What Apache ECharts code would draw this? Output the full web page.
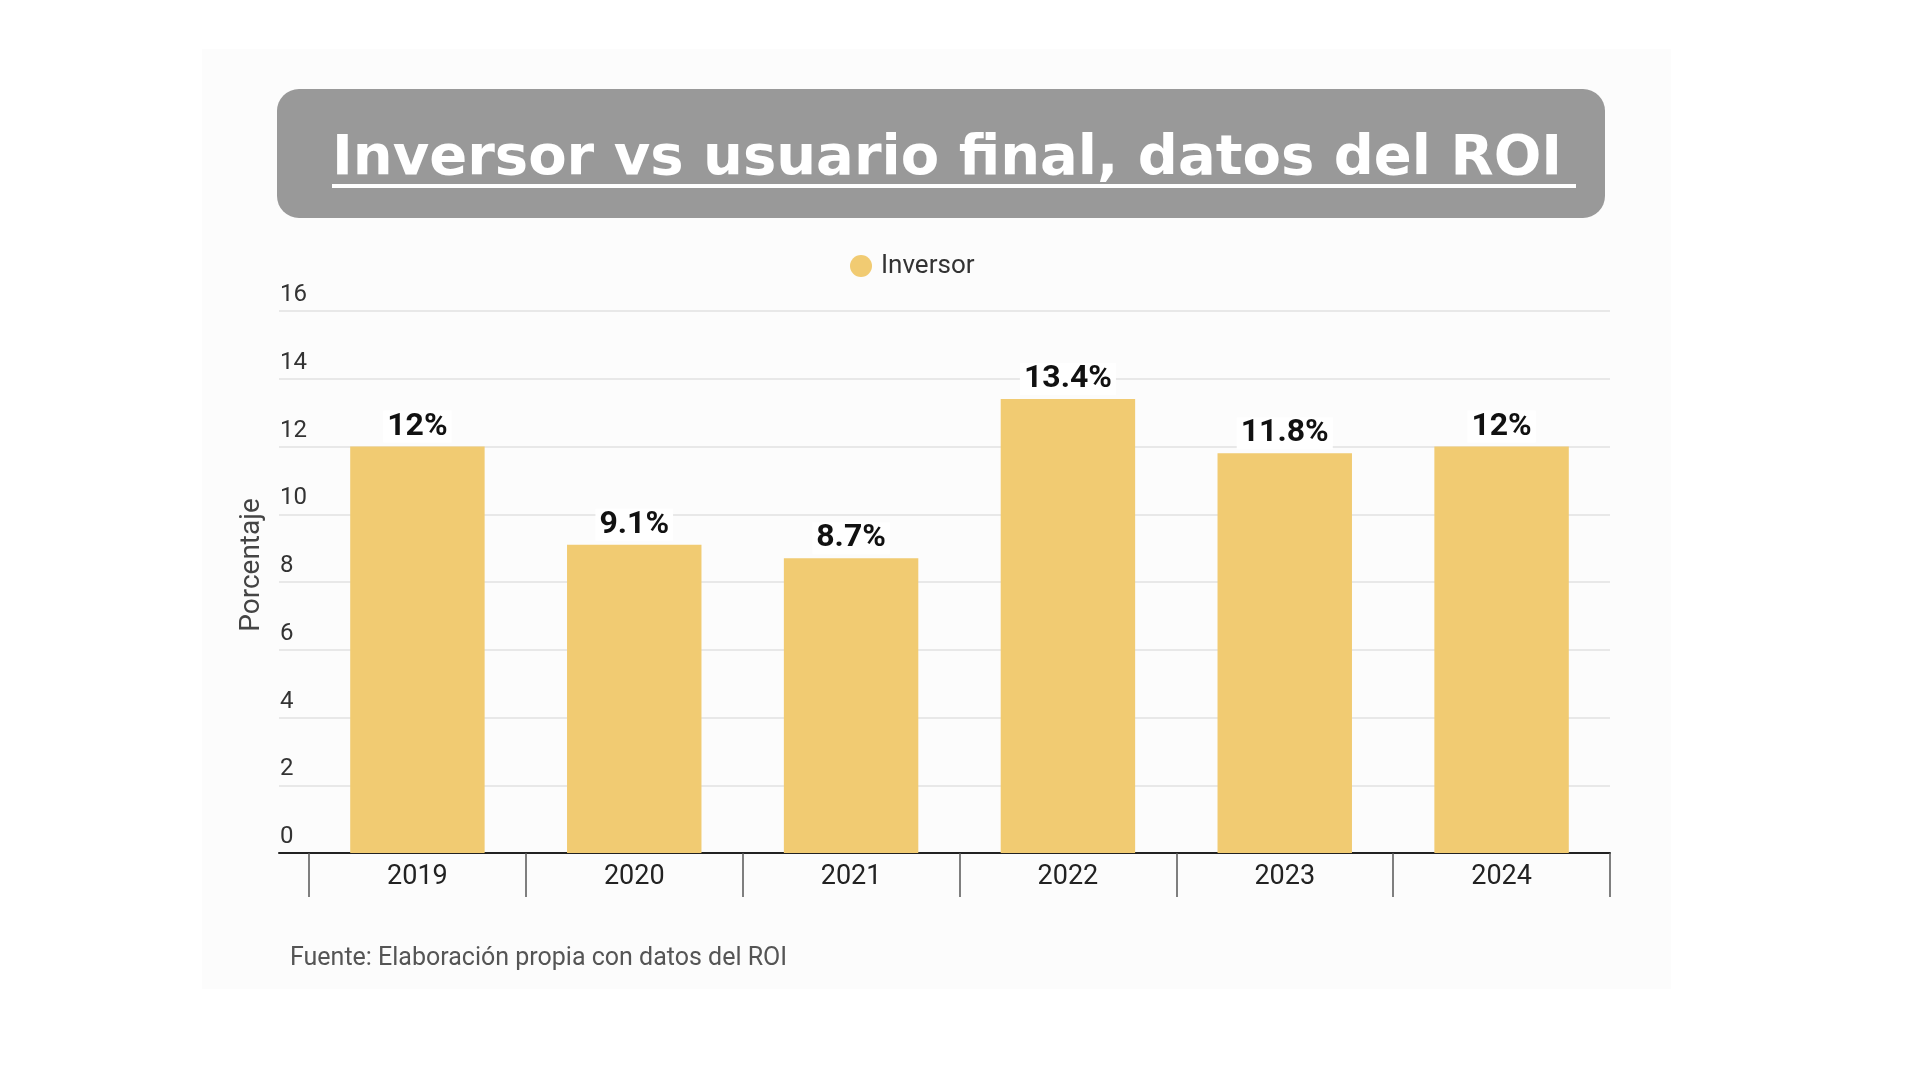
<!DOCTYPE html>
<html>
<head>
<meta charset="utf-8">
<script src="https://cdn.jsdelivr.net/npm/echarts@6/dist/echarts.min.js"></script>
<style>html,body{margin:0;padding:0;background:#fff}#c{width:1920px;height:1080px}</style>
</head>
<body>
<div id="c"></div>
<script>
var titleText = 'Inversor vs usuario final, datos del ROI ';
var seriesName = 'Inversor';
var categories = ['2019', '2020', '2021', '2022', '2023', '2024'];
var values = [12, 9.1, 8.7, 13.4, 11.8, 12];
var yTicks = [0, 2, 4, 6, 8, 10, 12, 14, 16];
var yAxisName = 'Porcentaje';
var sourceText = 'Fuente: Elaboración propia con datos del ROI';

var chart = echarts.init(document.getElementById('c'));
var font = 'Roboto, "Noto Sans", sans-serif';
chart.setOption({
  backgroundColor: '#ffffff',
  animation: false,
  title: {
    text: titleText,
    left: 332, top: 131, padding: 0,
    textStyle: { color: '#ffffff', fontFamily: '"DejaVu Sans", Verdana, sans-serif', fontWeight: 'bold', fontSize: 56 }
  },
  legend: {
    data: [seriesName],
    left: 845, top: 248,
    icon: 'circle', itemWidth: 22, itemHeight: 22, itemGap: 10,
    textStyle: { fontFamily: font, fontSize: 26, color: '#333', padding: [0, 0, 0, 4] }
  },
  graphic: [
    { type: 'rect', z: -10, shape: { x: 202, y: 49, width: 1469, height: 940 }, style: { fill: '#fcfcfc' } },
    { type: 'rect', z: -1, shape: { x: 277, y: 89, width: 1328, height: 129, r: 22 }, style: { fill: '#999999' } },
    { type: 'line', z: 5, shape: { x1: 332, y1: 186, x2: 1576, y2: 186 }, style: { stroke: '#ffffff', lineWidth: 4 } },
    { type: 'text', x: 252, y: 565, rotation: Math.PI / 2,
      style: { text: yAxisName, font: '28px Roboto, sans-serif', fill: '#444', textAlign: 'center', textVerticalAlign: 'middle' } },
    { type: 'text', x: 290, y: 959,
      style: { text: sourceText, font: '25px Roboto, sans-serif', fill: '#555', textAlign: 'left', textVerticalAlign: 'middle' } }
  ],
  grid: [
    { left: 309, right: 310, top: 311, bottom: 227 },
    { left: 279, right: 310, top: 311, bottom: 227 }
  ],
  xAxis: [
    { type: 'category', gridIndex: 0, data: categories,
      axisLine: { show: false },
      axisTick: { show: true, alignWithLabel: false, length: 44, lineStyle: { color: '#555', width: 1.5 } },
      axisLabel: { fontFamily: font, fontSize: 27, color: '#222', margin: 11 } },
    { type: 'value', gridIndex: 1, min: 0, max: 1,
      axisLine: { show: true, onZero: false, lineStyle: { color: '#222', width: 2 } },
      axisTick: { show: false }, axisLabel: { show: false }, splitLine: { show: false } }
  ],
  yAxis: [
    { type: 'value', gridIndex: 0, min: yTicks[0], max: yTicks[yTicks.length - 1], interval: 2, show: false, splitLine: { show: false } },
    { type: 'value', gridIndex: 1, min: yTicks[0], max: yTicks[yTicks.length - 1], interval: 2,
      axisLine: { show: false }, axisTick: { show: false },
      splitLine: { show: true, lineStyle: { color: '#e8e8e8', width: 2 } },
      axisLabel: { inside: true, align: 'left', verticalAlign: 'bottom', margin: 1, padding: [0, 0, 4, 0],
        fontFamily: font, fontSize: 24, color: '#333' } }
  ],
  series: [{
    name: seriesName, type: 'bar', xAxisIndex: 0, yAxisIndex: 0,
    data: values, barWidth: '62%',
    itemStyle: { color: '#F1CB72' },
    label: { show: true, position: 'top', distance: 4, formatter: '{c}%',
      fontFamily: font, fontSize: 32, fontWeight: 'bold', color: '#111',
      backgroundColor: '#ffffff', padding: [0, 4] }
  }]
});
</script>
</body>
</html>
